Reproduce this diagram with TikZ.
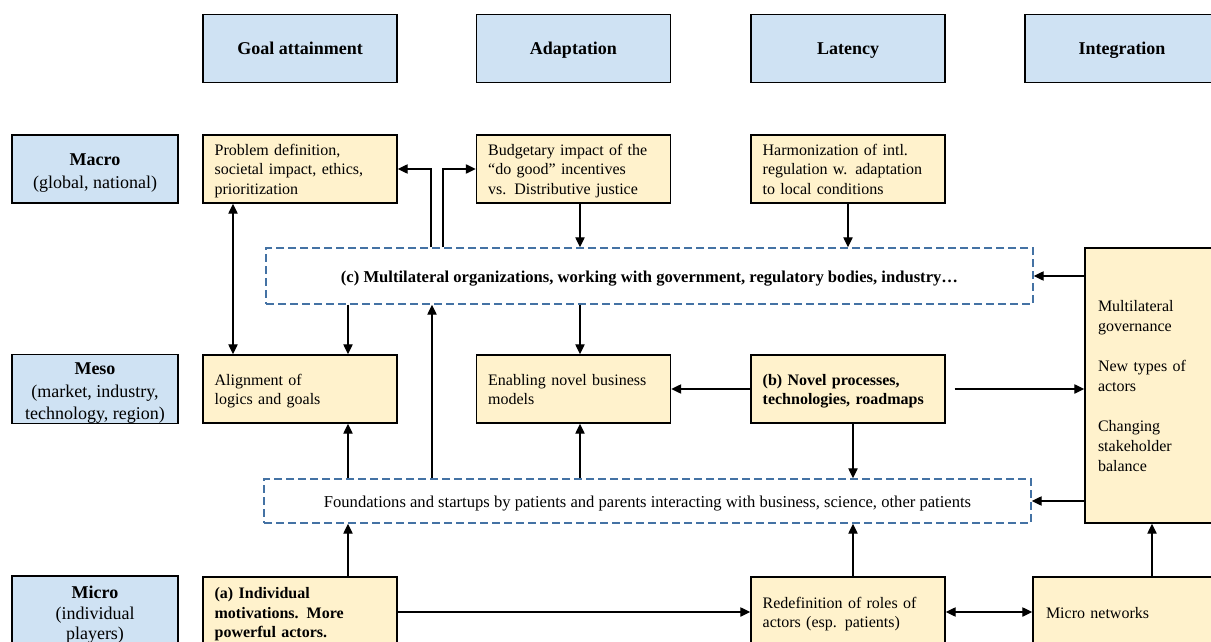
\documentclass[tikz,border=0pt]{standalone}
\usepackage{fontspec}
\setmainfont{Liberation Serif}
\usetikzlibrary{arrows.meta}
\definecolor{hdrblue}{RGB}{207,226,243}
\definecolor{boxyel}{RGB}{255,242,204}
\definecolor{dashblue}{RGB}{68,114,164}
\newcommand{\mytopstrut}{\rule{0pt}{12pt}}
\newcommand{\mybotstrut}{\rule[-3pt]{0pt}{0pt}}
\newcommand{\lvltop}{\rule{0pt}{15pt}}
\begin{document}
\begin{tikzpicture}[x=0.75pt,y=-0.75pt,
  hdr/.style={draw=black,line width=1.1pt,fill=hdrblue,minimum width=145.5pt,minimum height=51pt,
    font=\fontsize{13.5}{16.5}\selectfont,align=center,inner sep=0pt,text height=10.5pt,text depth=2pt},
  lvl/.style={draw=black,line width=1.1pt,fill=hdrblue,minimum width=124.5pt,minimum height=51pt,
    font=\fontsize{13.5}{16.8}\selectfont,align=center,inner sep=0pt},
  ybox/.style={draw=black,line width=1.1pt,fill=boxyel,minimum height=51pt,text width=128pt,
    inner xsep=8.75pt,inner ysep=0pt,align=left,font=\fontsize{12}{14.6}\selectfont,
    execute at begin node=\mytopstrut,execute at end node=\mybotstrut},
  dbox/.style={draw=dashblue,line width=1.1pt,dash pattern=on 6pt off 3pt,minimum width=575.25pt,
    inner sep=0pt,font=\fontsize{12.45}{15}\selectfont,text height=10.5pt,text depth=1.5pt},
  arr/.style={line width=1pt,-{Triangle[length=7.5pt,width=7pt]}},
  dblarr/.style={line width=1pt,{Triangle[length=7.5pt,width=7pt]}-{Triangle[length=7.5pt,width=7pt]}}]
\useasboundingbox (0,0) rectangle (1211,642);
\clip (0,0) rectangle (1211,642);
% headers
\node[hdr] (goal) at (300,48.5) {\textbf{Goal attainment}};
\node[hdr] (adap) at (573.5,48.5) {\textbf{Adaptation}};
\node[hdr] (lat) at (848,48.5) {\textbf{Latency}};
\node[hdr] (integh) at (1122,48.5) {\textbf{Integration}};
% levels
\node[lvl] (macro) at (95,169) {\lvltop\textbf{Macro}\\(global, national)};
\node[lvl] (meso) at (95,389) {\lvltop\textbf{Meso}\\(market, industry,\\technology, region)};
\node[lvl,minimum height=52.5pt,font=\fontsize{13.5}{15.6}\selectfont] (micro) at (95,611) {\lvltop\textbf{Micro}\\(individual\\players)};
% macro row
\node[ybox] (prob) at (300,169) {Problem definition,\\societal impact, ethics,\\prioritization};
\node[ybox] (budg) at (573.5,169) {Budgetary impact of the\\``do good'' incentives\\vs. Distributive justice};
\node[ybox] (harm) at (848,169) {Harmonization of intl.\\regulation w. adaptation\\to local conditions};
% dashed (c)
\node[dbox,minimum height=42pt] (c) at (649.5,276) {\textbf{(c) Multilateral organizations, working with government, regulatory bodies, industry\dots}};
% meso row
\node[ybox] (align) at (300,389) {Alignment of\\logics and goals};
\node[ybox] (enab) at (573.5,389) {Enabling novel business\\models};
\node[ybox] (novel) at (848,389) {\textbf{(b) Novel processes,}\\\textbf{technologies, roadmaps}};
% integration box
\node[draw=black,line width=1.1pt,fill=boxyel,minimum height=206.25pt,text width=89.25pt,
  inner xsep=9.75pt,inner ysep=0pt,align=left,font=\fontsize{12}{15}\selectfont,
  execute at begin node=\mytopstrut,execute at end node=\mybotstrut] (integ) at (1157.5,385.5)
  {Multilateral\\governance\\[15pt]New types of\\actors\\[15pt]Changing\\stakeholder\\balance};
% foundations
\node[dbox,minimum height=33pt] (found) at (647.5,501) {Foundations and startups by patients and parents interacting with business, science, other patients};
% micro row
\node[ybox,minimum height=52.5pt] (indiv) at (300,612) {\textbf{(a) Individual}\\\textbf{motivations. More}\\\textbf{powerful actors.}};
\node[ybox,minimum height=52.5pt] (redef) at (848,612) {Redefinition of roles of\\actors (esp. patients)};
\node[draw=black,line width=1.1pt,fill=boxyel,minimum height=52.5pt,text width=135.75pt,
  inner xsep=9.75pt,inner ysep=0pt,align=left,font=\fontsize{12}{14.6}\selectfont,
  execute at begin node=\mytopstrut,execute at end node=\mybotstrut] (mnet) at (1136.5,612) {Micro networks};
% connectors
\draw[dblarr] (233,0 |- prob.south) -- (233,0 |- align.north);
\draw[arr] (431,0 |- c.north) |- (prob.east);
\draw[arr] (443,0 |- c.north) |- (budg.west);
\draw[arr] (580,0 |- budg.south) -- (580,0 |- c.north);
\draw[arr] (harm.south) -- (harm.south |- c.north);
\draw[arr] (348,0 |- c.south) -- (348,0 |- align.north);
\draw[arr] (580,0 |- c.south) -- (580,0 |- enab.north);
\draw[arr] (432,0 |- found.north) -- (432,0 |- c.south);
\draw[arr] (348,0 |- found.north) -- (348,0 |- align.south);
\draw[arr] (580,0 |- found.north) -- (580,0 |- enab.south);
\draw[arr] (novel.west) -- (enab.east);
\draw[arr] ([xshift=6.75pt]novel.east) -- (integ.west |- novel.east);
\draw[arr] (853,0 |- novel.south) -- (853,0 |- found.north);
\draw[arr] (integ.west |- c.east) -- (c.east);
\draw[arr] (integ.west |- found.east) -- (found.east);
\draw[arr] (348,0 |- indiv.north) -- (348,0 |- found.south);
\draw[arr] (indiv.east) -- (redef.west);
\draw[arr] (853,0 |- redef.north) -- (853,0 |- found.south);
\draw[dblarr] (redef.east) -- (mnet.west);
\draw[arr] (1152,0 |- mnet.north) -- (1152,0 |- integ.south);
\end{tikzpicture}
\end{document}
